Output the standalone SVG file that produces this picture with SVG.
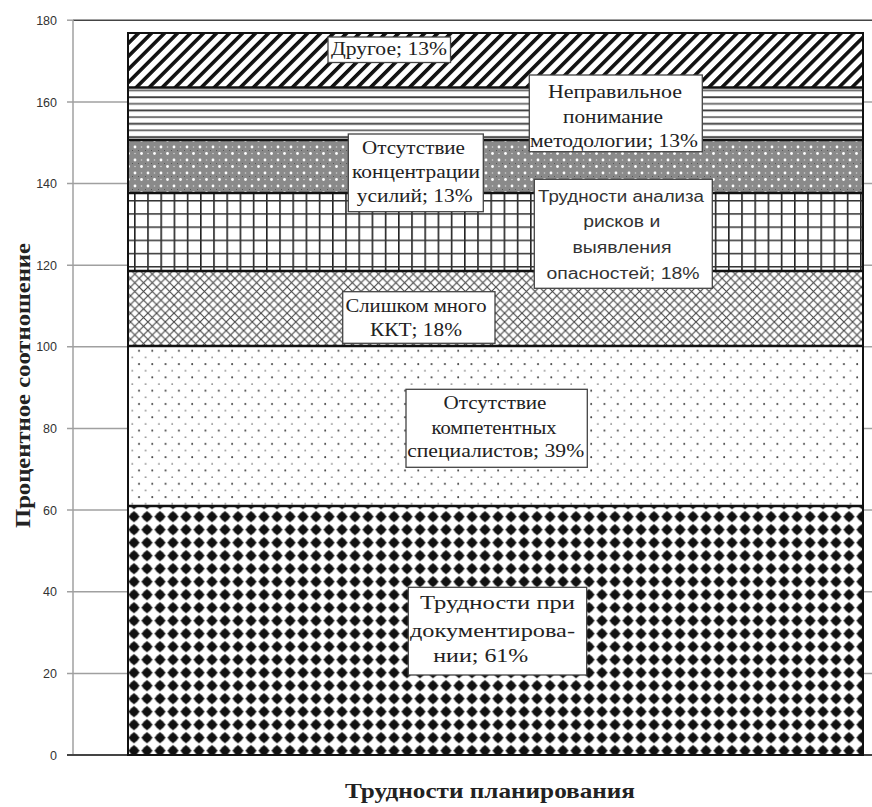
<svg xmlns="http://www.w3.org/2000/svg" width="872" height="807" viewBox="0 0 872 807">
<defs>
<pattern id="pDiag" patternUnits="userSpaceOnUse" width="9.2" height="9.2" patternTransform="rotate(45)">
<rect width="9.2" height="9.2" fill="#fff"/>
<rect x="0" y="0" width="3.6" height="9.2" fill="#111"/>
</pattern>
<pattern id="pHoriz" patternUnits="userSpaceOnUse" width="13.3" height="13.3" y="1">
<rect width="13.3" height="13.3" fill="#fff"/>
<rect x="0" y="2.2" width="13.3" height="1.8" fill="#333"/>
<rect x="0" y="8.8" width="13.3" height="1.8" fill="#666"/>
</pattern>
<pattern id="pGrey" patternUnits="userSpaceOnUse" width="13" height="13" x="2" y="1">
<rect width="13" height="13" fill="#8a8a8a"/>
<circle cx="3" cy="3" r="1.4" fill="#fff"/>
<circle cx="9.5" cy="9.5" r="1.4" fill="#fff"/>
<circle cx="9.5" cy="3" r="0.8" fill="#d0d0d0"/>
<circle cx="3" cy="9.5" r="0.8" fill="#d0d0d0"/>
<rect x="6" y="6" width="1" height="1" fill="#555"/>
<rect x="0" y="6" width="1" height="1" fill="#555"/>
</pattern>
<pattern id="pGrid" patternUnits="userSpaceOnUse" width="13.2" height="13.2" x="2" y="2">
<rect width="13.2" height="13.2" fill="#fff"/>
<rect x="0" y="0" width="1.6" height="13.2" fill="#222"/>
<rect x="0" y="0" width="13.2" height="1.5" fill="#333"/>
</pattern>
<pattern id="pCross" patternUnits="userSpaceOnUse" width="8.7" height="8.7">
<rect width="8.7" height="8.7" fill="#fff"/>
<path d="M0,0 L8.7,8.7 M8.7,0 L0,8.7" stroke="#444" stroke-width="1.1"/>
</pattern>
<pattern id="pDots" patternUnits="userSpaceOnUse" width="13.3" height="13.3" x="3" y="2">
<rect width="13.3" height="13.3" fill="#fff"/>
<circle cx="3" cy="3" r="1" fill="#444"/>
<circle cx="9.65" cy="9.65" r="0.9" fill="#888"/>
</pattern>
<pattern id="pBlack" patternUnits="userSpaceOnUse" width="13" height="13" x="-2.5" y="3.2">
<rect width="13" height="13" fill="#fff"/>
<path d="M6.5,0.8 L12.2,6.5 L6.5,12.2 L0.8,6.5 Z" fill="#111"/>
<circle cx="6.5" cy="6.5" r="4.3" fill="#111"/>
</pattern>
</defs>
<style>
.grid{stroke:#a0a0a0;stroke-width:1.5;fill:none}
.tick{font-family:"Liberation Sans",Arial,sans-serif;font-size:12.5px;fill:#333;text-anchor:end}
.band{stroke:#111;stroke-width:2.5}
.box{fill:#fff;stroke:#444;stroke-width:1.3}
.lbl{font-family:"Liberation Serif","Times New Roman",serif;font-size:19px;fill:#222;text-anchor:middle}
.lbls{font-family:"Liberation Sans",Arial,sans-serif;font-size:16px;fill:#333;text-anchor:middle}
.title{font-family:"Liberation Serif","Times New Roman",serif;font-weight:bold;font-size:21px;fill:#222;text-anchor:middle}
</style>
<rect width="872" height="807" fill="#fff"/>
<g id="axes">
<line class="grid" x1="67" y1="101.9" x2="872" y2="101.9"/>
<line class="grid" x1="67" y1="183.5" x2="872" y2="183.5"/>
<line class="grid" x1="67" y1="265.2" x2="872" y2="265.2"/>
<line class="grid" x1="67" y1="346.8" x2="872" y2="346.8"/>
<line class="grid" x1="67" y1="428.4" x2="872" y2="428.4"/>
<line class="grid" x1="67" y1="510.1" x2="872" y2="510.1"/>
<line class="grid" x1="67" y1="591.7" x2="872" y2="591.7"/>
<line class="grid" x1="67" y1="673.4" x2="872" y2="673.4"/>
<line x1="67" y1="20.2" x2="73" y2="20.2" stroke="#a0a0a0" stroke-width="1.5"/>
<line x1="73" y1="20.2" x2="872" y2="20.2" stroke="#444" stroke-width="1.6"/>
<line x1="73" y1="20" x2="73" y2="755" stroke="#a0a0a0" stroke-width="1.5"/>
<line x1="67" y1="755" x2="872" y2="755" stroke="#444" stroke-width="2"/>
<text class="tick" x="57" y="25">180</text>
<text class="tick" x="57" y="106.5">160</text>
<text class="tick" x="57" y="188">140</text>
<text class="tick" x="57" y="269.8">120</text>
<text class="tick" x="57" y="351.4">100</text>
<text class="tick" x="57" y="433">80</text>
<text class="tick" x="57" y="514.7">60</text>
<text class="tick" x="57" y="596.3">40</text>
<text class="tick" x="57" y="678">20</text>
<text class="tick" x="57" y="759.6">0</text>
<text class="title" transform="translate(30,385.5) rotate(-90)" textLength="285" lengthAdjust="spacingAndGlyphs">Процентное соотношение</text>
<text class="title" x="490" y="798" textLength="290" lengthAdjust="spacingAndGlyphs">Трудности планирования</text>
</g>
<g id="bar">
<rect id="band-doc" x="128" y="506" width="735" height="249" fill="url(#pBlack)"/>
<rect id="band-comp" x="128" y="346" width="735" height="160" fill="url(#pDots)"/>
<rect id="band-kkt" x="128" y="271" width="735" height="75" fill="url(#pCross)"/>
<rect id="band-risk" x="128" y="193" width="735" height="78" fill="url(#pGrid)"/>
<rect id="band-conc" x="128" y="140" width="735" height="53" fill="url(#pGrey)"/>
<rect id="band-meth" x="128" y="87.5" width="735" height="52.5" fill="url(#pHoriz)"/>
<rect id="band-other" x="128" y="33" width="735" height="54.5" fill="url(#pDiag)"/>
<line class="band" x1="128" y1="87.5" x2="863" y2="87.5"/>
<line class="band" x1="128" y1="140" x2="863" y2="140"/>
<line class="band" x1="128" y1="193" x2="863" y2="193"/>
<line class="band" x1="128" y1="271" x2="863" y2="271"/>
<line class="band" x1="128" y1="346" x2="863" y2="346"/>
<line class="band" x1="128" y1="506" x2="863" y2="506"/>
<rect x="128" y="33" width="735" height="722" fill="none" stroke="#111" stroke-width="2"/>
</g>
<g id="label-other">
<rect class="box" x="328" y="37" width="122.5" height="25.5"/>
<text class="lbl" x="389" y="55" textLength="116" lengthAdjust="spacingAndGlyphs">Другое; 13%</text>
</g>
<g id="label-meth">
<rect class="box" x="529.3" y="75" width="173" height="76.7"/>
<text class="lbl" x="615" y="98.3" textLength="134" lengthAdjust="spacingAndGlyphs">Неправильное</text>
<text class="lbl" x="613" y="123" textLength="100" lengthAdjust="spacingAndGlyphs">понимание</text>
<text class="lbl" x="614" y="146.5" textLength="168" lengthAdjust="spacingAndGlyphs">методологии; 13%</text>
</g>
<g id="label-conc">
<rect class="box" x="348.3" y="134" width="135" height="77.7"/>
<text class="lbl" x="413.5" y="154" textLength="103" lengthAdjust="spacingAndGlyphs">Отсутствие</text>
<text class="lbl" x="416" y="178" textLength="128" lengthAdjust="spacingAndGlyphs">концентрации</text>
<text class="lbl" x="414.7" y="201.5" textLength="116" lengthAdjust="spacingAndGlyphs">усилий; 13%</text>
</g>
<g id="label-risk">
<rect class="box" x="534.3" y="179.3" width="178" height="109"/>
<text class="lbls" x="621" y="201.7" textLength="166" lengthAdjust="spacingAndGlyphs">Трудности анализа</text>
<text class="lbls" x="621.7" y="226.7" textLength="77" lengthAdjust="spacingAndGlyphs">рисков и</text>
<text class="lbls" x="622" y="252.7" textLength="99" lengthAdjust="spacingAndGlyphs">выявления</text>
<text class="lbls" x="623" y="279" textLength="153" lengthAdjust="spacingAndGlyphs">опасностей; 18%</text>
</g>
<g id="label-kkt">
<rect class="box" x="342.7" y="291.7" width="152.3" height="51.6"/>
<text class="lbl" x="416" y="311.7" textLength="141" lengthAdjust="spacingAndGlyphs">Слишком много</text>
<text class="lbl" x="416" y="336" textLength="92" lengthAdjust="spacingAndGlyphs">ККТ; 18%</text>
</g>
<g id="label-comp">
<rect class="box" x="406" y="389.3" width="181.3" height="78"/>
<text class="lbl" x="495" y="409.3" textLength="103" lengthAdjust="spacingAndGlyphs">Отсутствие</text>
<text class="lbl" x="494" y="433.5" textLength="125" lengthAdjust="spacingAndGlyphs">компетентных</text>
<text class="lbl" x="495.7" y="457.3" textLength="177" lengthAdjust="spacingAndGlyphs">специалистов; 39%</text>
</g>
<g id="label-doc">
<rect class="box" x="408.3" y="587.3" width="178.4" height="87.7"/>
<text class="lbl" x="497.5" y="609.3" textLength="155" lengthAdjust="spacingAndGlyphs">Трудности при</text>
<text class="lbl" x="492.5" y="636.7" textLength="165" lengthAdjust="spacingAndGlyphs">документирова-</text>
<text class="lbl" x="480.8" y="661.7" textLength="95" lengthAdjust="spacingAndGlyphs">нии; 61%</text>
</g>
<g id="connectors"/>
</svg>
